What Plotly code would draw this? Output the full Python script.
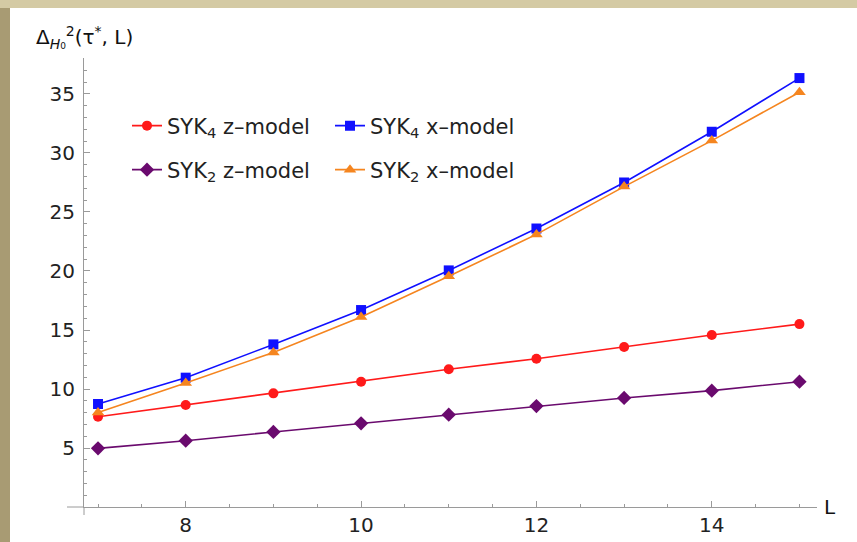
import plotly.graph_objects as go

L = [7, 8, 9, 10, 11, 12, 13, 14, 15]
syk4_z = [7.65, 8.64, 9.63, 10.62, 11.67, 12.57, 13.56, 14.58, 15.5]
syk4_x = [8.73, 10.96, 13.78, 16.69, 20.05, 23.6, 27.5, 31.8, 36.35]
syk2_z = [4.97, 5.62, 6.36, 7.09, 7.82, 8.55, 9.24, 9.86, 10.62]
syk2_x = [8.0, 10.5, 13.1, 16.1, 19.55, 23.1, 27.15, 31.05, 35.15]

x_ticks = [8, 10, 12, 14]
y_ticks = [5, 10, 15, 20, 25, 30, 35]

W, H = 857, 542
ml, mr, mt, mb = 84, 40, 58, 35
pw, ph = W - ml - mr, H - mt - mb

def px(xp):
    return (xp - ml) / pw

def py(yp):
    return (H - mb - yp) / ph

FONT = "DejaVu Sans"
fig = go.Figure()

series = [
    ("SYK<sub>4</sub> z–model", syk4_z, "#FF1A1A", "circle", 10, "legend"),
    ("SYK<sub>4</sub> x–model", syk4_x, "#1010FF", "square", 10, "legend"),
    ("SYK<sub>2</sub> z–model", syk2_z, "#6A0A6E", "diamond", 11, "legend2"),
    ("SYK<sub>2</sub> x–model", syk2_x, "#F5851F", "triangle-up", 11, "legend2"),
]
for name, ys, col, sym, sz, lg in series:
    fig.add_trace(go.Scatter(
        x=L, y=ys, name=name, mode="lines+markers",
        line=dict(color=col, width=1.6),
        marker=dict(color=col, symbol=sym, size=sz),
        legend=lg, cliponaxis=False,
    ))

axcol = "#9a9a9a"
fig.update_xaxes(
    range=[6.84, 15.2], showgrid=False, zeroline=False, automargin=False,
    showline=True, linecolor=axcol, linewidth=1,
    tickmode="array", tickvals=x_ticks, ticks="inside", ticklen=6,
    tickcolor=axcol, tickfont=dict(family=FONT, size=20, color="#222"),
    ticklabelstandoff=0,
    minor=dict(tickmode="array", tickvals=[7 + 0.5 * i for i in range(17)],
               ticks="inside", ticklen=3, tickcolor=axcol),
)
fig.update_yaxes(
    range=[0, 38.05], showgrid=False, zeroline=False, automargin=False,
    showline=True, linecolor=axcol, linewidth=1,
    tickmode="array", tickvals=y_ticks, ticks="inside", ticklen=6,
    tickcolor=axcol, tickfont=dict(family=FONT, size=20, color="#222"),
    ticklabelstandoff=4,
    minor=dict(tickmode="array", tickvals=list(range(1, 39)),
               ticks="inside", ticklen=3, tickcolor=axcol),
)

shapes = [
    # beige frame strips (top and left)
    dict(type="rect", xref="paper", yref="paper",
         x0=px(0), x1=px(W), y0=py(8), y1=py(0),
         fillcolor="#D4CAA4", line=dict(width=0), layer="below"),
    dict(type="rect", xref="paper", yref="paper",
         x0=px(0), x1=px(10), y0=py(H), y1=py(8),
         fillcolor="#A89B73", line=dict(width=0), layer="below"),
    # axis extensions
    dict(type="line", xref="paper", yref="paper",
         x0=px(67), x1=0, y0=0, y1=0, line=dict(color=axcol, width=1)),
    dict(type="line", xref="paper", yref="paper",
         x0=0, x1=0, y0=py(515), y1=0, line=dict(color=axcol, width=1)),
]

annotations = [
    dict(text="Δ<sub><i>H</i>₀</sub><sup>2</sup>(τ<sup>*</sup>, L)",
         xref="paper", yref="paper", x=px(34), y=py(38),
         xanchor="left", yanchor="middle", showarrow=False,
         font=dict(family=FONT, size=20, color="#111")),
    dict(text="L", xref="paper", yref="paper", x=px(822), y=py(507),
         xanchor="left", yanchor="middle", showarrow=False,
         font=dict(family=FONT, size=20, color="#111")),
]

leg_common = dict(orientation="h", xanchor="left", yanchor="middle",
                  bgcolor="rgba(0,0,0,0)", itemwidth=30,
                  entrywidth=158, entrywidthmode="pixels",
                  font=dict(family=FONT, size=21, color="#222"))

fig.update_layout(
    width=W, height=H,
    margin=dict(l=ml, r=mr, t=mt, b=mb),
    paper_bgcolor="white", plot_bgcolor="white",
    shapes=shapes, annotations=annotations,
    legend=dict(x=px(127), y=py(126), **leg_common),
    legend2=dict(x=px(127), y=py(170), **leg_common),
)

fig.write_html("out.html", config={"displayModeBar": False},
               post_script="document.body.style.margin='0';document.body.style.overflow='hidden';")
